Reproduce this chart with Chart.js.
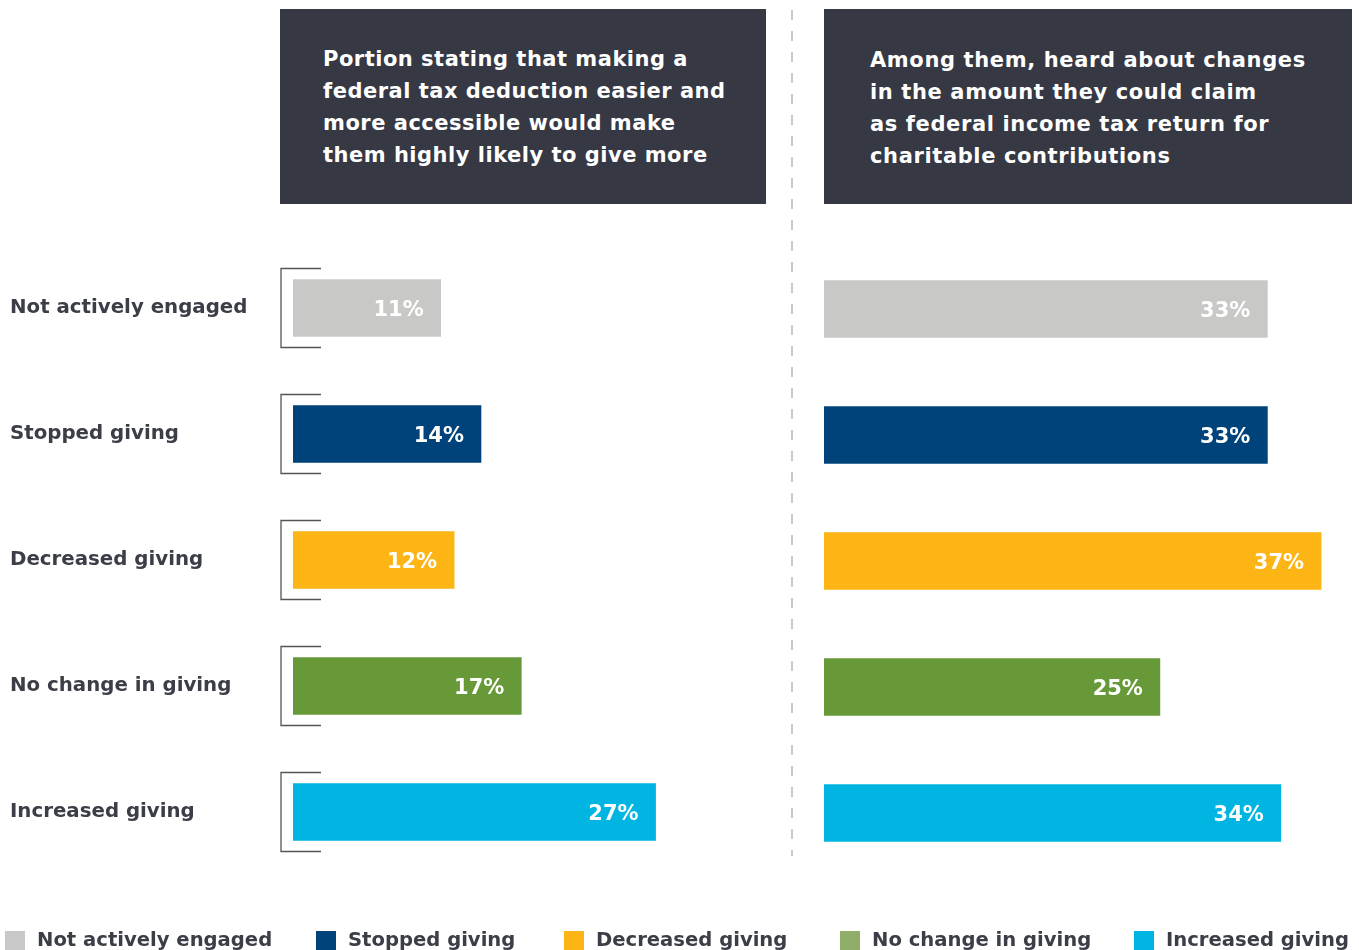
<!DOCTYPE html>
<html>
<head>
<meta charset="utf-8">
<script src="https://cdn.jsdelivr.net/npm/chart.js@4"></script>
<style>
  body { margin: 0; width: 1359px; height: 950px; background: #fff; position: relative; overflow: hidden;
         font-family: "DejaVu Sans", sans-serif; }
  .wrap { position: absolute; top: 0; height: 950px; }
  .head { position: absolute; top: 9px; height: 195px; background: #363843; color: #fff;
          font-weight: bold; font-size: 21px; line-height: 32px; letter-spacing: 0.5px; box-sizing: border-box; }
  .legend { position: absolute; top: 929px; font-weight: bold; font-size: 19.6px; color: #3b3e47; line-height: 22px; white-space: nowrap; }
  .legend span.box { position: absolute; left: 0; top: 2px; width: 20px; height: 20px; }
  .legend span.txt { position: absolute; top: 0; }
</style>
</head>
<body>
<div class="head" style="left:280px;width:486px;padding:34px 0 0 43px;">Portion stating that making a<br>federal tax deduction easier and<br>more accessible would make<br>them highly likely to give more</div>
<div class="head" style="left:824px;width:528px;padding:35px 0 0 46px;letter-spacing:0.62px;">Among them, heard about changes<br>in the amount they could claim<br>as federal income tax return for<br>charitable contributions</div>

<svg style="position:absolute;left:0;top:0" width="1359" height="950">
  <line x1="792" y1="10" x2="792" y2="856" stroke="#c9c9c9" stroke-width="2" stroke-dasharray="10 11"/>
</svg>

<div class="wrap" style="left:0;width:780px;"><canvas id="leftChart"></canvas></div>
<div class="wrap" style="left:800px;width:559px;"><canvas id="rightChart"></canvas></div>

<div id="legend"></div>

<script>
// categories, top to bottom
var categories = ['Not actively engaged', 'Stopped giving', 'Decreased giving', 'No change in giving', 'Increased giving'];
// share highly likely to give more with easier deduction (%)
var likelyValues = [11, 14, 12, 17, 27];
// share that heard about changes to the deduction amount (%)
var heardValues = [33, 33, 37, 25, 34];
var barColors = ['#c8c9c7', '#00427a', '#fdb515', '#679938', '#00b5e2'];
var legendColors = ['#c8c9c7', '#00427a', '#fdb515', '#8fae6a', '#00b5e2'];
var legendX = [5, 316, 564, 840, 1134];

// white percentage text inside the end of each bar
var valueLabels = {
    id: 'valueLabels',
    afterDatasetsDraw: function(chart) {
        var ctx = chart.ctx;
        var meta = chart.getDatasetMeta(0);
        var data = chart.data.datasets[0].data;
        ctx.save();
        ctx.fillStyle = '#ffffff';
        ctx.font = 'bold 21px "DejaVu Sans"';
        ctx.textAlign = 'right';
        ctx.textBaseline = 'middle';
        meta.data.forEach(function(bar, i) {
            ctx.fillText(data[i] + '%', bar.x - 17, bar.y + 3);
        });
        ctx.restore();
    }
};

// square brackets to the left of each bar
var brackets = {
    id: 'brackets',
    afterDatasetsDraw: function(chart, args, opts) {
        if (!opts.show) return;
        var ctx = chart.ctx;
        var left = chart.chartArea.left;
        ctx.save();
        ctx.strokeStyle = '#555555';
        ctx.lineWidth = 1.3;
        chart.getDatasetMeta(0).data.forEach(function(bar) {
            var x0 = left - 12, x1 = left + 28;
            ctx.beginPath();
            ctx.moveTo(x1, bar.y - 39.5);
            ctx.lineTo(x0, bar.y - 39.5);
            ctx.lineTo(x0, bar.y + 39.5);
            ctx.lineTo(x1, bar.y + 39.5);
            ctx.stroke();
        });
        ctx.restore();
    }
};

function makeChart(id, values, max, padding, showAxis) {
    var yScale = {
        display: showAxis,
        grid: { display: false },
        border: { display: false },
        ticks: {
            crossAlign: 'far',
            color: '#3b3e47',
            font: { family: 'DejaVu Sans', size: 19.8, weight: 'bold' }
        }
    };
    if (showAxis) {
        yScale.afterFit = function(scale) { scale.width = 283; };
    }
    return new Chart(document.getElementById(id), {
        type: 'bar',
        data: {
            labels: categories,
            datasets: [{
                data: values,
                backgroundColor: barColors,
                barThickness: 57
            }]
        },
        options: {
            indexAxis: 'y',
            responsive: true,
            maintainAspectRatio: false,
            animation: false,
            layout: { padding: padding },
            plugins: {
                legend: { display: false },
                tooltip: { enabled: false },
                brackets: { show: showAxis }
            },
            scales: {
                x: { display: false, min: 0, max: max },
                y: yScale
            }
        },
        plugins: [valueLabels, brackets]
    });
}

makeChart('leftChart', likelyValues, 35, { left: 10, right: 17, top: 245, bottom: 75 }, true);
makeChart('rightChart', heardValues, 39, { left: 24, right: 11, top: 246, bottom: 74 }, false);

// shared legend along the bottom
var legend = document.getElementById('legend');
categories.forEach(function(name, i) {
    var item = document.createElement('div');
    item.className = 'legend';
    item.style.left = legendX[i] + 'px';
    item.innerHTML = '<span class="box" style="background:' + legendColors[i] + '"></span><span class="txt" style="left:32px">' + name + '</span>';
    legend.appendChild(item);
});
</script>
</body>
</html>
